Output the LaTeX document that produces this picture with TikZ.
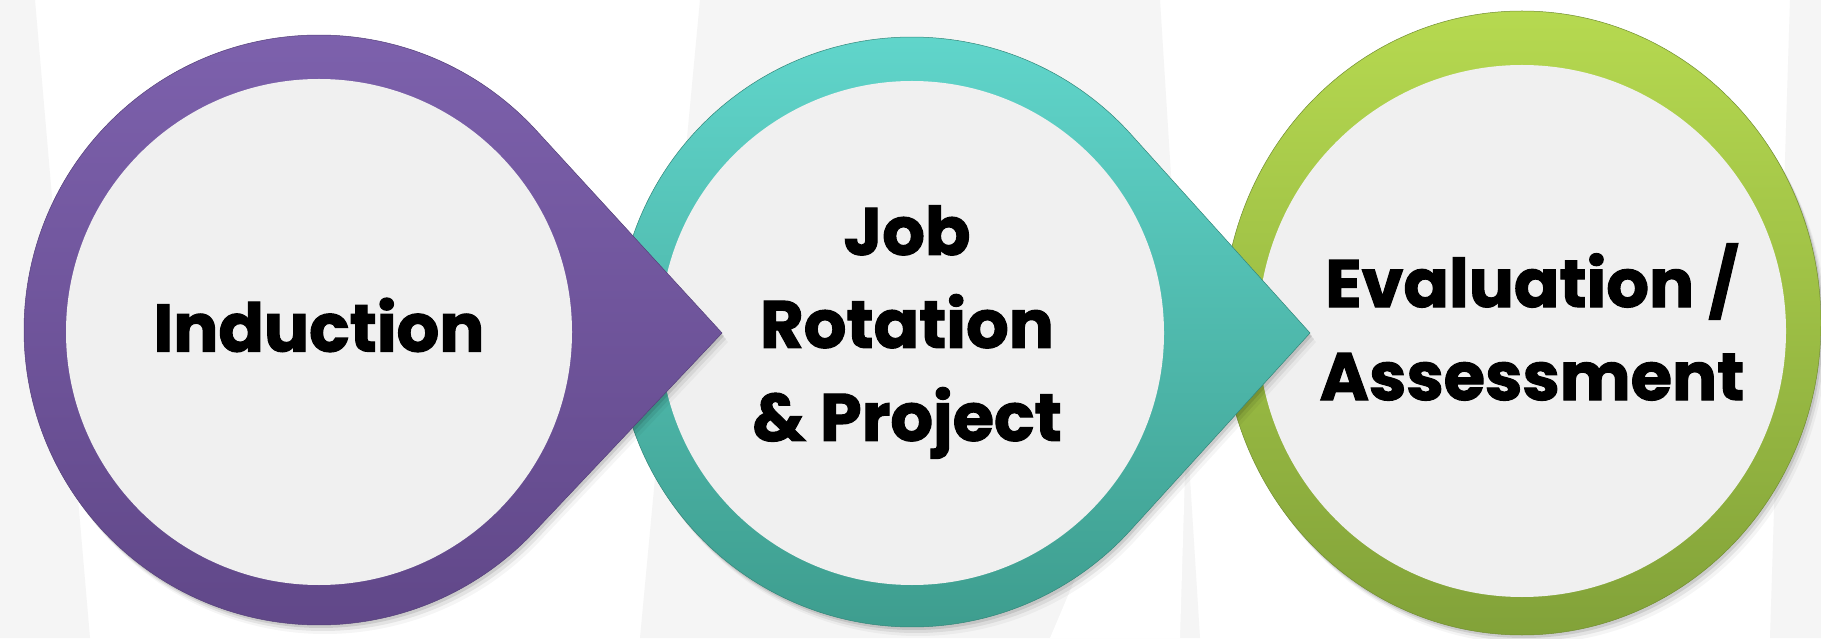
\documentclass[tikz,border=0pt]{standalone}
\usepackage{fontspec}
\newfontfamily\popb{Poppins Bold}[FakeBold=1.6]
\usetikzlibrary{shadows,calc,shapes.geometric}
\definecolor{bgw}{HTML}{FFFFFF}
\definecolor{bgg}{HTML}{F5F5F5}
\definecolor{innergray}{HTML}{F0F0F0}
\definecolor{purpT}{HTML}{7E62AE}
\definecolor{purpM}{HTML}{72589C}
\definecolor{purpB}{HTML}{604788}
\definecolor{purpD}{HTML}{55407A}
\definecolor{tealT}{HTML}{62D8CE}
\definecolor{tealM}{HTML}{4FBCAF}
\definecolor{tealB}{HTML}{3D9C8D}
\definecolor{tealD}{HTML}{33877A}
\definecolor{grnT}{HTML}{B6D950}
\definecolor{grnM}{HTML}{A2C747}
\definecolor{grnB}{HTML}{82A239}
\definecolor{grnD}{HTML}{728E31}
\begin{document}
\begin{tikzpicture}[x=1pt,y=1pt,
  shad/.style={
    drop shadow={shadow xshift=2pt, shadow yshift=-3pt, opacity=0.10, fill=black},
    drop shadow={shadow xshift=4pt, shadow yshift=-6pt, opacity=0.07, fill=black},
    drop shadow={shadow xshift=6pt, shadow yshift=-9pt, opacity=0.04, fill=black}},
  ringP/.style={shad, top color=purpT, middle color=purpM, bottom color=purpB, draw=purpD, line width=0.5pt},
  ringT/.style={shad, top color=tealT, middle color=tealM, bottom color=tealB, draw=tealD, line width=0.5pt},
  ringG/.style={shad, top color=grnT, middle color=grnM, bottom color=grnB, draw=grnD, line width=0.5pt},
  innerc/.style={circle, fill=innergray, inner sep=0pt},
  innere/.style={ellipse, fill=innergray, inner sep=0pt},
  lbl/.style={font=\popb\fontsize{67}{93}\selectfont, align=center, text=black, inner sep=0pt}]
\useasboundingbox (0,0) rectangle (1821,638);
\fill[bgw] (0,0) rectangle (1821,638);
% faint background shapes
\fill[bgg] (0,638) -- (35,638) -- (90,0) -- (0,0) -- cycle;
\fill[bgg] (700,638) -- (1160,638) -- (1200,0) -- (640,0) -- cycle;
\fill[bgw] (1050,0) -- (1180,0) -- (1190,330) -- cycle;
\fill[bgg] (1790,638) -- (1821,638) -- (1821,0) -- (1770,0) -- cycle;
% green stage
\path[ringG] (1522,315) ellipse[x radius=299, y radius=312];
\node[innere, minimum width=528, minimum height=532] (c3) at (1522,307) {};
% teal stage
\coordinate (tc) at (912,306);
\coordinate (ttip) at (1310,305);
\path[ringT] (ttip) -- ([shift={(42.2:295)}]tc) arc[start angle=42.2, end angle=317.8, radius=295] -- cycle;
\node[innerc, minimum size=504] (c2) at (912,305) {};
% purple stage
\coordinate (pc) at (319,308);
\coordinate (ptip) at (722,305);
\path[ringP] (ptip) -- ([shift={(42.9:295)}]pc) arc[start angle=42.9, end angle=317.1, radius=295] -- cycle;
\node[innerc, minimum size=506] (c1) at (319,306) {};
% labels
\node[lbl] (t1) at (319,313) {Induction};
\node[lbl] (t2) at (907,306) {Job\\Rotation\\\& Project};
\node[lbl] (t3) at (1532,316) {Evaluation /\\Assessment};
\end{tikzpicture}
\end{document}
